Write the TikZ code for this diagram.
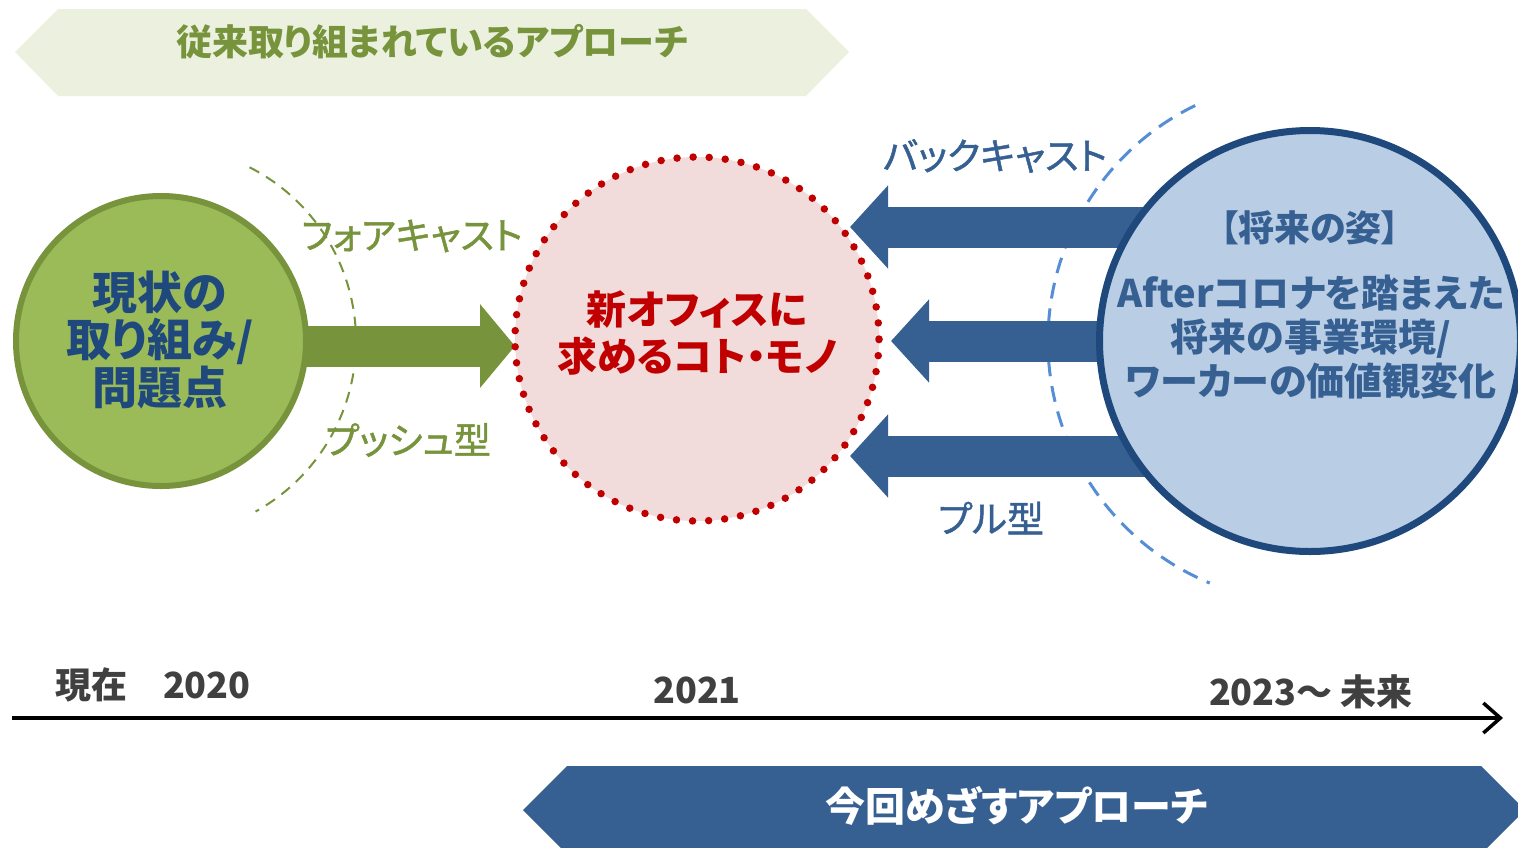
\documentclass[tikz,border=0pt]{standalone}
\usepackage{fontspec}
\setmainfont{Noto Sans CJK JP}[RawFeature=+palt]
\newfontfamily\lblfont{Noto Sans CJK JP}[RawFeature=+palt, FakeBold=1.3]
\usetikzlibrary{arrows.meta}
\pgfdeclarelayer{bg}
\pgfsetlayers{bg,main}
\definecolor{olive}{HTML}{77933C}
\definecolor{olivefill}{HTML}{9BBB59}
\definecolor{palegreen}{HTML}{EBF1DE}
\definecolor{navytxt}{HTML}{1F497D}
\definecolor{pinkfill}{HTML}{F2DCDB}
\definecolor{darkred}{HTML}{C00000}
\definecolor{steel}{HTML}{376092}
\definecolor{lightblue}{HTML}{B9CDE5}
\definecolor{navyborder}{HTML}{1F497D}
\definecolor{dashblue}{HTML}{558ED5}
\definecolor{darkgray}{HTML}{404040}
\tikzset{
  every node/.style={inner sep=0pt, outer sep=0pt},
  lbl/.style={font=\lblfont\fontsize{37}{40}\selectfont},
  heading/.style={font=\bfseries\fontsize{36}{38}\selectfont},
  yearlbl/.style={font=\bfseries\fontsize{36}{38}\selectfont, text=darkgray},
  blockarrow/.style={line width=41pt, -{Triangle[length=38pt,width=81pt]}},
}
\begin{document}
\begin{tikzpicture}[x=1pt,y=-1pt]
\clip (0,0) rectangle (1518,847);

% top banner
\fill[palegreen] (15,52) -- (58,9) -- (806,9) -- (849,52) -- (806,96) -- (58,96) -- cycle;
\node[heading, text=olive] (oldtxt) at (432,42) {従来取り組まれているアプローチ};

% circles
\node[circle, draw=olive, line width=6pt, fill=olivefill, minimum size=290pt] (now) at (161,341) {};
\node[align=center, text=navytxt, font=\bfseries\fontsize{45}{46.5}\selectfont] (nowtxt) at (160,340) {現状の\\取り組み/\\問題点};

\node[circle, fill=pinkfill, draw=darkred, line width=7.5pt, dash pattern=on 0pt off 16.1pt, line cap=round, minimum size=364pt] (mid) at (697,339) {};
\node[align=center, text=darkred, font=\bfseries\fontsize{40}{47}\selectfont] (midtxt) at (697,333) {新オフィスに\\求めるコト・モノ};

\node[circle, draw=navyborder, line width=7pt, fill=lightblue, minimum size=421pt] (fut) at (1310,341) {};
\node[text=steel, font=\bfseries\fontsize{36}{38}\selectfont] (futtitle) at (1310,228) {【将来の姿】};
\node[align=center, text=steel, font=\bfseries\fontsize{38}{44}\selectfont] (futtxt) at (1311,337)
  {Afterコロナを踏まえた\\将来の事業環境/\\ワーカーの価値観変化};

% arcs and arrows behind the circles
\coordinate (ga) at (160,346);
\coordinate (b1) at (850,227);
\coordinate (b2) at (891,341);
\coordinate (b3) at (850,456);
\begin{pgfonlayer}{bg}
\draw[olive, line width=2pt, dash pattern=on 11pt off 8pt] (now.center) ++(-63:195) arc[start angle=-63, end angle=61, radius=195];
\draw[dashblue, line width=3pt, dash pattern=on 16pt off 10pt] (fut.center) ++(-116:262) arc[start angle=-116, end angle=-247.5, radius=262];
\draw[blockarrow, olive, -{Triangle[length=35pt,width=82pt]}] (ga) -- (mid.west |- ga);
\draw[blockarrow, steel] (fut.center |- b1) -- (b1);
\draw[blockarrow, steel] (fut.center |- b2) -- (b2);
\draw[blockarrow, steel] (fut.center |- b3) -- (b3);
\end{pgfonlayer}

% arrow labels
\node[lbl, text=olive] (fc) at (412,236) {フォアキャスト};
\node[lbl, text=olive] (push) at (408,440) {プッシュ型};
\node[lbl, text=steel] (bc) at (995,156) {バックキャスト};
\node[lbl, text=steel] (pull) at (991,518) {プル型};

% timeline
\coordinate (t0) at (12,718);
\coordinate (t1) at (1503,718);
\draw[line width=3.5pt, -{Straight Barb[length=17pt,width=30pt]}] (t0) -- (t1);
\node[yearlbl, anchor=west] (y20) at (55,685) {現在　2020};
\node[yearlbl] (y21) at (697,690) {2021};
\node[yearlbl] (y23) at (1311,692) {2023～ 未来};

% bottom banner
\fill[steel] (523,810) -- (567,766) -- (1481,766) -- (1525,810) -- (1481,854) -- (567,854) -- cycle;
\node[text=white, font=\bfseries\fontsize{40}{42}\selectfont] (newtxt) at (1017,806) {今回めざすアプローチ};
\end{tikzpicture}
\end{document}
